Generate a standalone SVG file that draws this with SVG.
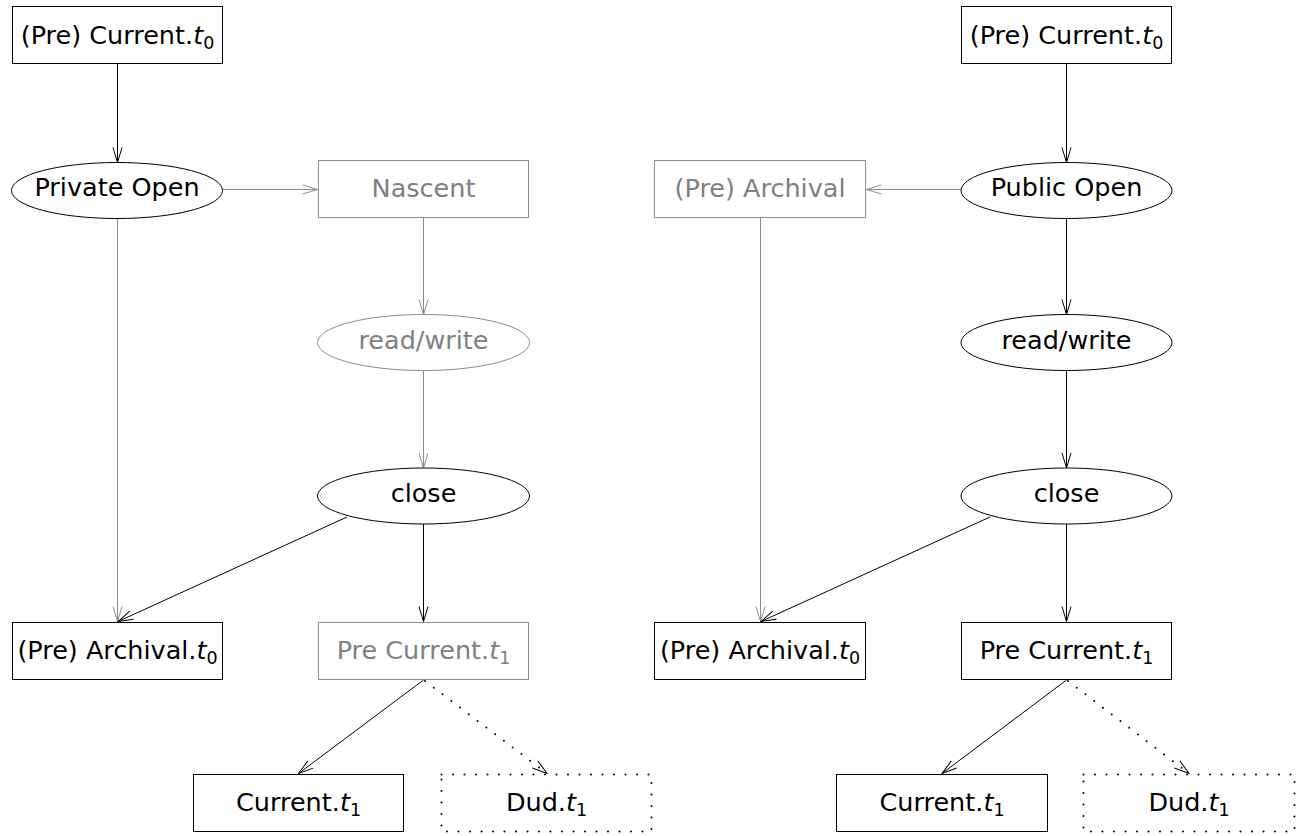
<svg xmlns="http://www.w3.org/2000/svg" width="1304" height="836" viewBox="0 0 1304 836">
  <style>
    .box { fill: #ffffff; stroke: #000000; stroke-width: 1; }
    .gbox { fill: #ffffff; stroke: #8c8c8c; stroke-width: 1; }
    .dbox { fill: #ffffff; stroke: #000000; stroke-width: 2; stroke-dasharray: 0 11.5; stroke-linecap: round; }
    .ell { fill: #ffffff; stroke: #000000; stroke-width: 1; }
    .gell { fill: #ffffff; stroke: #8c8c8c; stroke-width: 1; }
    text { font-family: "DejaVu Sans", "Liberation Sans", sans-serif; font-size: 25.5px; text-anchor: middle; fill: #000000; }
    text.g { fill: #808080; }
    .it { font-style: italic; }
    .sub { font-size: 17.5px; }
    .ln { fill: none; stroke: #000000; stroke-width: 1; marker-end: url(#ah); }
    .gln { fill: none; stroke: #8c8c8c; stroke-width: 1; marker-end: url(#gah); }
    .dln { fill: none; stroke: #000000; stroke-width: 2; stroke-dasharray: 0 11; stroke-linecap: round; marker-end: url(#ah); }
  </style>
  <defs>
    <marker id="ah" markerUnits="userSpaceOnUse" markerWidth="20" markerHeight="12" refX="16" refY="6" orient="auto" overflow="visible">
      <path d="M1,1.5 L16,6 L1,10.5" fill="none" stroke="#000000" stroke-width="1"/>
    </marker>
    <marker id="gah" markerUnits="userSpaceOnUse" markerWidth="20" markerHeight="12" refX="16" refY="6" orient="auto" overflow="visible">
      <path d="M1,1.5 L16,6 L1,10.5" fill="none" stroke="#8c8c8c" stroke-width="1"/>
    </marker>
  </defs>

  <g id="connectors">
    <!-- left -->
    <line class="ln" x1="117.5" y1="64" x2="117.5" y2="162.5"/>
    <line class="gln" x1="222" y1="189.5" x2="317.5" y2="189.5"/>
    <line class="gln" x1="117.5" y1="218.5" x2="117.5" y2="621.5"/>
    <line class="gln" x1="423.5" y1="218" x2="423.5" y2="314.5"/>
    <line class="gln" x1="423.5" y1="370.5" x2="423.5" y2="468"/>
    <line class="ln" x1="347" y1="517" x2="118" y2="621.5"/>
    <line class="ln" x1="423.5" y1="524" x2="423.5" y2="621.5"/>
    <line class="ln" x1="423.5" y1="680" x2="298.5" y2="773.5"/>
    <line class="dln" x1="425" y1="681" x2="547" y2="773.5"/>
    <!-- right -->
    <line class="ln" x1="1066.5" y1="64" x2="1066.5" y2="162.5"/>
    <line class="gln" x1="961" y1="189.5" x2="866.5" y2="189.5"/>
    <line class="gln" x1="760.5" y1="218" x2="760.5" y2="621.5"/>
    <line class="ln" x1="1066.5" y1="218.5" x2="1066.5" y2="314.5"/>
    <line class="ln" x1="1066.5" y1="370.5" x2="1066.5" y2="468"/>
    <line class="ln" x1="990" y1="517" x2="761" y2="621.5"/>
    <line class="ln" x1="1066.5" y1="524" x2="1066.5" y2="621.5"/>
    <line class="ln" x1="1066.5" y1="680" x2="942" y2="773.5"/>
    <line class="dln" x1="1068" y1="681" x2="1189" y2="773.5"/>
  </g>

  <!-- left tree -->
  <g id="l-current0">
    <rect class="box" x="12.5" y="6.5" width="210" height="57"/>
    <text x="117.5" y="44">(Pre) Current.<tspan class="it">t</tspan><tspan class="sub" dy="5">0</tspan></text>
  </g>
  <g id="l-private-open">
    <ellipse class="ell" cx="117" cy="190.5" rx="105.5" ry="28"/>
    <text x="117" y="196">Private Open</text>
  </g>
  <g id="l-nascent">
    <rect class="gbox" x="318.5" y="160.5" width="210" height="57"/>
    <text class="g" x="423.5" y="197">Nascent</text>
  </g>
  <g id="l-readwrite">
    <ellipse class="gell" cx="423.5" cy="342.5" rx="106" ry="28"/>
    <text class="g" x="423.5" y="348.5">read/write</text>
  </g>
  <g id="l-close">
    <ellipse class="ell" cx="423.5" cy="496" rx="106" ry="28"/>
    <text x="423.5" y="502">close</text>
  </g>
  <g id="l-archival0">
    <rect class="box" x="12.5" y="622.5" width="210" height="57"/>
    <text x="117.5" y="659">(Pre) Archival.<tspan class="it">t</tspan><tspan class="sub" dy="5">0</tspan></text>
  </g>
  <g id="l-precurrent1">
    <rect class="gbox" x="318.5" y="622.5" width="210" height="57"/>
    <text class="g" x="423.5" y="659">Pre Current.<tspan class="it">t</tspan><tspan class="sub" dy="5">1</tspan></text>
  </g>
  <g id="l-current1">
    <rect class="box" x="193.5" y="774.5" width="210" height="57"/>
    <text x="298.5" y="811">Current.<tspan class="it">t</tspan><tspan class="sub" dy="5">1</tspan></text>
  </g>
  <g id="l-dud1">
    <rect class="dbox" x="441.5" y="774.5" width="210" height="57"/>
    <text x="546.5" y="811">Dud.<tspan class="it">t</tspan><tspan class="sub" dy="5">1</tspan></text>
  </g>

  <!-- right tree -->
  <g id="r-current0">
    <rect class="box" x="961.5" y="6.5" width="210" height="57"/>
    <text x="1066.5" y="44">(Pre) Current.<tspan class="it">t</tspan><tspan class="sub" dy="5">0</tspan></text>
  </g>
  <g id="r-public-open">
    <ellipse class="ell" cx="1066.5" cy="190.5" rx="105.5" ry="28"/>
    <text x="1066.5" y="196">Public Open</text>
  </g>
  <g id="r-archival">
    <rect class="gbox" x="654.5" y="160.5" width="211" height="57"/>
    <text class="g" x="760" y="197">(Pre) Archival</text>
  </g>
  <g id="r-readwrite">
    <ellipse class="ell" cx="1066.5" cy="342.5" rx="105.5" ry="28"/>
    <text x="1066.5" y="348.5">read/write</text>
  </g>
  <g id="r-close">
    <ellipse class="ell" cx="1066.5" cy="496" rx="105.5" ry="28"/>
    <text x="1066.5" y="502">close</text>
  </g>
  <g id="r-archival0">
    <rect class="box" x="654.5" y="622.5" width="211" height="57"/>
    <text x="760" y="659">(Pre) Archival.<tspan class="it">t</tspan><tspan class="sub" dy="5">0</tspan></text>
  </g>
  <g id="r-precurrent1">
    <rect class="box" x="961.5" y="622.5" width="210" height="57"/>
    <text x="1066.5" y="659">Pre Current.<tspan class="it">t</tspan><tspan class="sub" dy="5">1</tspan></text>
  </g>
  <g id="r-current1">
    <rect class="box" x="836.5" y="774.5" width="211" height="57"/>
    <text x="942" y="811">Current.<tspan class="it">t</tspan><tspan class="sub" dy="5">1</tspan></text>
  </g>
  <g id="r-dud1">
    <rect class="dbox" x="1083.5" y="774.5" width="211" height="57"/>
    <text x="1189" y="811">Dud.<tspan class="it">t</tspan><tspan class="sub" dy="5">1</tspan></text>
  </g>
</svg>
